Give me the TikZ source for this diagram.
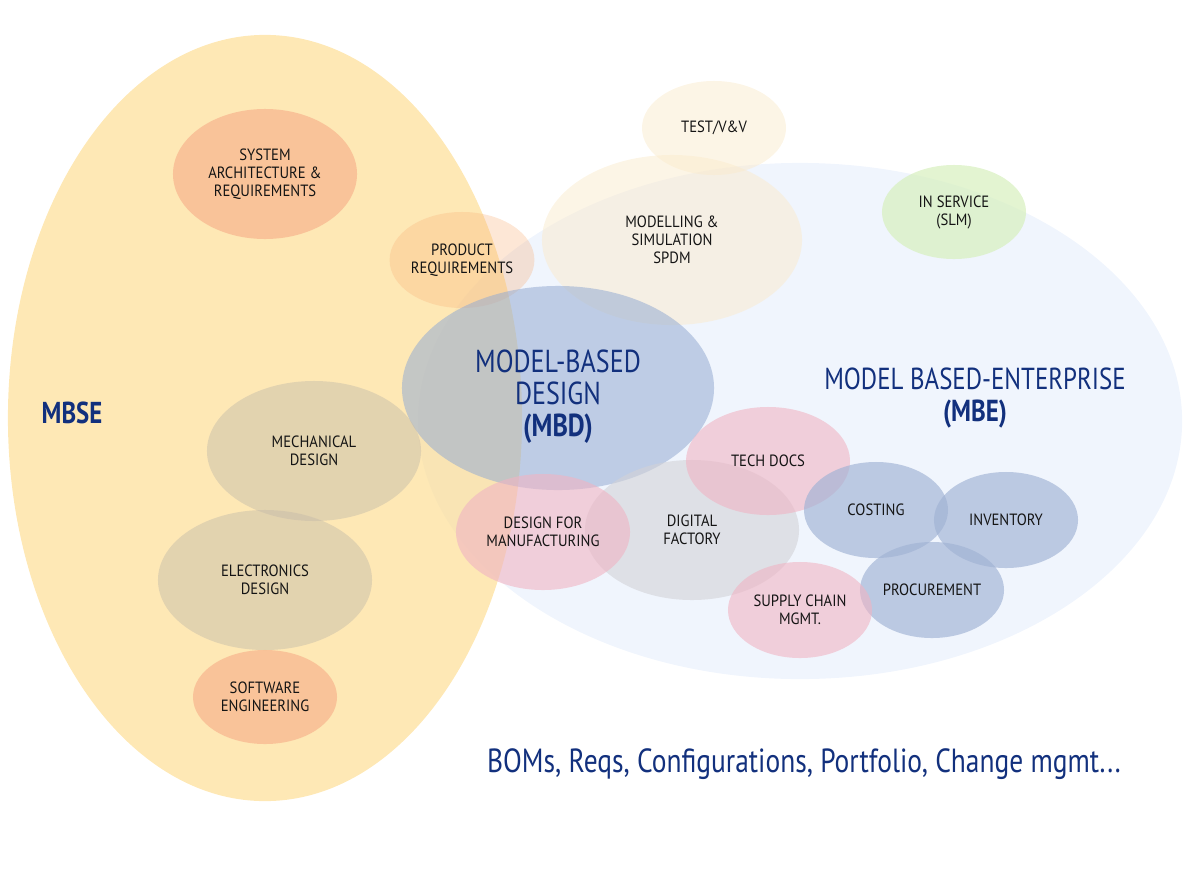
\documentclass[tikz,border=0pt]{standalone}
\usepackage{fontspec}
\setmainfont{PT Sans}[FakeStretch=0.82]
\newfontfamily\labelfont{PT Sans}[FakeStretch=0.9]
\usepackage{tikz}
\usetikzlibrary{shapes.geometric}

\definecolor{mbeblue}{RGB}{240,245,253}
\definecolor{mbseyellow}{RGB}{253,222,150}
\definecolor{mbdblue}{RGB}{150,172,210}
\definecolor{peach}{RGB}{246,160,125}
\definecolor{apricot}{RGB}{248,175,120}
\definecolor{tan}{RGB}{200,190,170}
\definecolor{cream}{RGB}{250,235,205}
\definecolor{mint}{RGB}{215,240,190}
\definecolor{rose}{RGB}{240,180,195}
\definecolor{ash}{RGB}{210,210,215}
\definecolor{steel}{RGB}{160,178,212}
\definecolor{navy}{RGB}{18,48,125}
\definecolor{ink}{RGB}{20,20,20}

\tikzset{
  bubble/.style={ellipse, inner sep=0pt, align=center, text=ink,
    font=\labelfont\fontsize{11.6}{12.8}\selectfont},
  bigtext/.style={align=center, text=navy, font=\fontsize{22.6}{22.8}\selectfont}
}

\begin{document}
\begin{tikzpicture}[x=0.025cm, y=-0.025cm]
			\useasboundingbox (0,0) rectangle (1200,881);
			% big areas
			\node (mbe) [bubble, fill=mbeblue, minimum width=19.1cm, minimum height=12.9cm] at (800,421) {};
			\node (mbse) [bubble, fill=mbseyellow, fill opacity=.7, minimum width=12.85cm, minimum height=19.15cm] at (265,418) {};
			% upper bubbles
			\node (msim) [bubble, fill=cream, fill opacity=.5, text opacity=1, minimum width=6.5cm, minimum height=4.25cm] at (672,240) {MODELLING \&\\SIMULATION\\SPDM};
			\node (test) [bubble, fill=cream, fill opacity=.5, text opacity=1, minimum width=3.6cm, minimum height=2.35cm] at (714,128) {TEST/V\&V};
			\node (preq) [bubble, fill=apricot, fill opacity=.3, text opacity=1, minimum width=3.6cm, minimum height=2.4cm] at (462,260) {PRODUCT\\REQUIREMENTS};
			\node (sysarch) [bubble, fill=peach, fill opacity=.5, text opacity=1, minimum width=4.6cm, minimum height=3.25cm] at (265,174) {SYSTEM\\ARCHITECTURE \&\\REQUIREMENTS};
			\node (insvc) [bubble, fill=mint, fill opacity=.7, text opacity=1, minimum width=3.6cm, minimum height=2.35cm] at (954,212) {IN SERVICE\\(SLM)};
			\node (mbd) [bubble, fill=mbdblue, fill opacity=.55, minimum width=7.8cm, minimum height=5.1cm] at (558,388) {};
			% MBSE side
			\node (mech) [bubble, fill=tan, fill opacity=.5, text opacity=1, minimum width=5.35cm, minimum height=3.5cm] at (314,451) {MECHANICAL\\DESIGN};
			\node (elec) [bubble, fill=tan, fill opacity=.5, text opacity=1, minimum width=5.35cm, minimum height=3.5cm] at (265,580) {ELECTRONICS\\DESIGN};
			\node (sweng) [bubble, fill=peach, fill opacity=.5, text opacity=1, minimum width=3.6cm, minimum height=2.35cm] at (265,697) {SOFTWARE\\ENGINEERING};
			% MBE side
			\node (digfac) [bubble, fill=ash, fill opacity=.6, text opacity=1, minimum width=5.35cm, minimum height=3.5cm] at (692,530) {DIGITAL\\FACTORY};
			\node (techdocs) [bubble, fill=rose, fill opacity=.6, text opacity=1, minimum width=4.1cm, minimum height=2.7cm] at (768,461) {TECH DOCS};
			\node (dfm) [bubble, fill=rose, fill opacity=.6, text opacity=1, minimum width=4.35cm, minimum height=2.9cm] at (543,532) {DESIGN FOR\\MANUFACTURING};
			\node (costing) [bubble, fill=steel, fill opacity=.65, text opacity=1, minimum width=3.6cm, minimum height=2.4cm] at (876,510) {COSTING};
			\node (inventory) [bubble, fill=steel, fill opacity=.65, text opacity=1, minimum width=3.6cm, minimum height=2.4cm] at (1006,520) {INVENTORY};
			\node (procure) [bubble, fill=steel, fill opacity=.65, text opacity=1, minimum width=3.6cm, minimum height=2.4cm] at (932,590) {PROCUREMENT};
			\node (supply) [bubble, fill=rose, fill opacity=.6, text opacity=1, minimum width=3.6cm, minimum height=2.4cm] at (800,610) {SUPPLY CHAIN\\MGMT.};
			% labels
			\node (mbselabel) [text=navy, font=\fontsize{21.5}{22}\selectfont\bfseries] at (72,413) {MBSE};
			\node (mbdlabel) [bigtext] at (558,397) {MODEL-BASED\\DESIGN\\{\bfseries (MBD)}};
			\node (mbelabel) [bigtext, font=\fontsize{21.6}{22.8}\selectfont] at (975,398) {MODEL BASED-ENTERPRISE\\{\bfseries (MBE)}};
			\node (extras) [text=navy, font=\fontsize{23.8}{26}\selectfont] at (804,764) {BOMs, Reqs, Configurations, Portfolio, Change mgmt...};
		\end{tikzpicture}
\end{document}
